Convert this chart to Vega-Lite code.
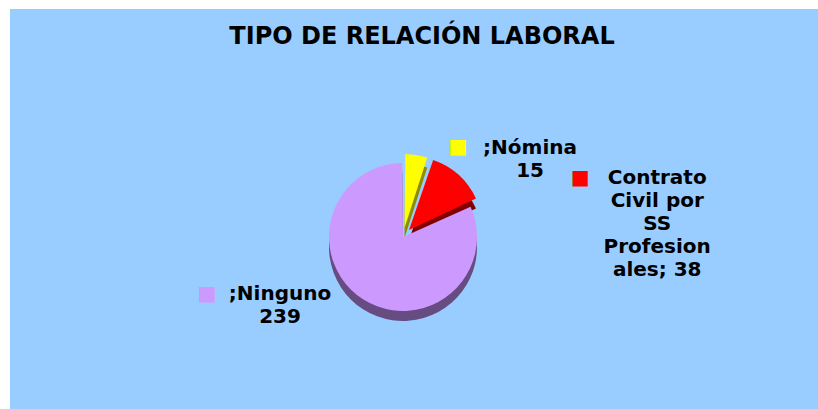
{
  "$schema": "https://vega.github.io/schema/vega-lite/v6.json",
  "width": 808,
  "height": 400,
  "autosize": {"type": "none"},
  "padding": {"left": 10, "top": 9, "right": 0, "bottom": 0},
  "background": "white",
  "view": {"fill": "#99CCFF", "stroke": null},
  "config": {
    "text": {"font": "DejaVu Sans"}
  },
  "title": {
    "text": "TIPO DE RELACIÓN LABORAL",
    "font": "DejaVu Sans",
    "fontSize": 24,
    "fontWeight": "bold",
    "color": "black",
    "anchor": "middle",
    "offset": -40,
    "dx": 8
  },
  "data": {
    "values": [
      {"tipo": "Nómina", "n": 15, "orden": 1, "etiqueta": ";Nómina\n15"},
      {"tipo": "Contrato Civil por SS Profesionales", "n": 38, "orden": 2, "etiqueta": "Contrato\nCivil por\nSS\nProfesion\nales; 38"},
      {"tipo": "Ninguno", "n": 239, "orden": 3, "etiqueta": ";Ninguno\n239"}
    ]
  },
  "encoding": {
    "theta": {"field": "n", "type": "quantitative", "stack": true},
    "order": {"field": "orden", "type": "quantitative", "sort": "ascending"}
  },
  "layer": [
    {
      "mark": {"type": "arc", "outerRadius": 74, "padAngle": 0.02, "xOffset": -11, "yOffset": 38},
      "encoding": {
        "fill": {"field": "tipo", "type": "nominal", "legend": null,
          "scale": {"domain": ["Nómina", "Contrato Civil por SS Profesionales", "Ninguno"], "range": ["#8C8C00", "#800000", "#664C80"]}},
        "opacity": {"condition": {"test": "datum.tipo === 'Ninguno'", "value": 1}, "value": 0}
      }
    },
    {
      "mark": {"type": "arc", "outerRadius": 74, "padAngle": 0.02, "xOffset": -9.5, "yOffset": 29},
      "encoding": {
        "fill": {"field": "tipo", "type": "nominal", "legend": null,
          "scale": {"domain": ["Nómina", "Contrato Civil por SS Profesionales", "Ninguno"], "range": ["#8C8C00", "#800000", "#664C80"]}},
        "opacity": {"condition": {"test": "datum.tipo === 'Nómina'", "value": 1}, "value": 0}
      }
    },
    {
      "mark": {"type": "arc", "outerRadius": 74, "padAngle": 0.02, "xOffset": -5, "yOffset": 31},
      "encoding": {
        "fill": {"field": "tipo", "type": "nominal", "legend": null,
          "scale": {"domain": ["Nómina", "Contrato Civil por SS Profesionales", "Ninguno"], "range": ["#8C8C00", "#800000", "#664C80"]}},
        "opacity": {"condition": {"test": "datum.tipo === 'Contrato Civil por SS Profesionales'", "value": 1}, "value": 0}
      }
    },
    {
      "mark": {"type": "arc", "outerRadius": 74, "padAngle": 0.02, "xOffset": -11, "yOffset": 28},
      "encoding": {
        "color": {"field": "tipo", "type": "nominal", "legend": null,
          "scale": {"domain": ["Nómina", "Contrato Civil por SS Profesionales", "Ninguno"], "range": ["#FFFF00", "#FF0000", "#CC99FF"]}},
        "opacity": {"condition": {"test": "datum.tipo === 'Ninguno'", "value": 1}, "value": 0}
      }
    },
    {
      "mark": {"type": "arc", "outerRadius": 74, "padAngle": 0.02, "xOffset": -9.5, "yOffset": 19},
      "encoding": {
        "color": {"field": "tipo", "type": "nominal", "legend": null,
          "scale": {"domain": ["Nómina", "Contrato Civil por SS Profesionales", "Ninguno"], "range": ["#FFFF00", "#FF0000", "#CC99FF"]}},
        "opacity": {"condition": {"test": "datum.tipo === 'Nómina'", "value": 1}, "value": 0}
      }
    },
    {
      "mark": {"type": "arc", "outerRadius": 74, "padAngle": 0.02, "xOffset": -5, "yOffset": 21},
      "encoding": {
        "color": {"field": "tipo", "type": "nominal", "legend": null,
          "scale": {"domain": ["Nómina", "Contrato Civil por SS Profesionales", "Ninguno"], "range": ["#FFFF00", "#FF0000", "#CC99FF"]}},
        "opacity": {"condition": {"test": "datum.tipo === 'Contrato Civil por SS Profesionales'", "value": 1}, "value": 0}
      }
    },
    {
      "mark": {"type": "text", "radius": 100, "dx": 100, "dy": 38, "fontSize": 20, "fontWeight": "bold", "lineBreak": "\n", "lineHeight": 23, "align": "center", "baseline": "middle", "color": "black"},
      "encoding": {
        "detail": {"field": "tipo"},
        "text": {"condition": {"test": "datum.tipo === 'Nómina'", "field": "etiqueta"}, "value": ""}
      }
    },
    {
      "mark": {"type": "text", "radius": 150, "dx": 143, "dy": 81, "fontSize": 20, "fontWeight": "bold", "lineBreak": "\n", "lineHeight": 23, "align": "center", "baseline": "middle", "color": "black"},
      "encoding": {
        "detail": {"field": "tipo"},
        "text": {"condition": {"test": "datum.tipo === 'Contrato Civil por SS Profesionales'", "field": "etiqueta"}, "value": ""}
      }
    },
    {
      "mark": {"type": "text", "radius": 100, "dx": -80, "dy": 1, "fontSize": 20, "fontWeight": "bold", "lineBreak": "\n", "lineHeight": 23, "align": "center", "baseline": "middle", "color": "black"},
      "encoding": {
        "detail": {"field": "tipo"},
        "text": {"condition": {"test": "datum.tipo === 'Ninguno'", "field": "etiqueta"}, "value": ""}
      }
    },
    {
      "mark": {"type": "text", "radius": 100, "dx": 28, "dy": 37, "fontSize": 20, "align": "center", "baseline": "middle"},
      "encoding": {
        "color": {"field": "tipo", "type": "nominal", "legend": null,
          "scale": {"domain": ["Nómina", "Contrato Civil por SS Profesionales", "Ninguno"], "range": ["#FFFF00", "#FF0000", "#CC99FF"]}},
        "text": {"condition": {"test": "datum.tipo === 'Nómina'", "value": "■"}, "value": ""}
      }
    },
    {
      "mark": {"type": "text", "radius": 150, "dx": 66, "dy": 81, "fontSize": 20, "align": "center", "baseline": "middle"},
      "encoding": {
        "color": {"field": "tipo", "type": "nominal", "legend": null,
          "scale": {"domain": ["Nómina", "Contrato Civil por SS Profesionales", "Ninguno"], "range": ["#FFFF00", "#FF0000", "#CC99FF"]}},
        "text": {"condition": {"test": "datum.tipo === 'Contrato Civil por SS Profesionales'", "value": "■"}, "value": ""}
      }
    },
    {
      "mark": {"type": "text", "radius": 100, "dx": -153, "dy": 1, "fontSize": 20, "align": "center", "baseline": "middle"},
      "encoding": {
        "color": {"field": "tipo", "type": "nominal", "legend": null,
          "scale": {"domain": ["Nómina", "Contrato Civil por SS Profesionales", "Ninguno"], "range": ["#FFFF00", "#FF0000", "#CC99FF"]}},
        "text": {"condition": {"test": "datum.tipo === 'Ninguno'", "value": "■"}, "value": ""}
      }
    }
  ]
}
